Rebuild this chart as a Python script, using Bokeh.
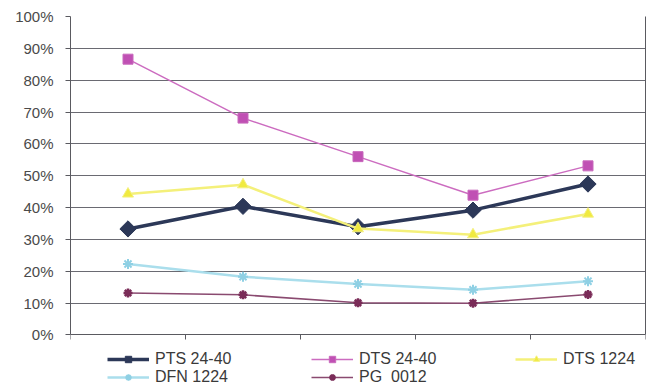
import math
from bokeh.plotting import figure
from bokeh.models import FixedTicker, PrintfTickFormatter, Legend, LegendItem, LinearAxis
from bokeh.embed import file_html
from bokeh.resources import INLINE

# ---- data ----
categories = ["1", "2", "3", "4", "5"]
x_pos = [0.5, 1.5, 2.5, 3.5, 4.5]
pts_24_40 = [33.3, 40.4, 34.0, 39.2, 47.4]
dts_24_40 = [86.6, 68.1, 56.0, 43.9, 53.1]
dts_1224 = [44.3, 47.2, 33.4, 31.5, 38.0]
dfn_1224 = [22.3, 18.3, 16.0, 14.2, 16.9]
pg_0012 = [13.2, 12.6, 10.1, 10.0, 12.7]
y_ticks = [0, 10, 20, 30, 40, 50, 60, 70, 80, 90, 100]
x_ticks = [0, 1, 2, 3, 4, 5]
labels = ["PTS 24-40", "DTS 24-40", "DTS 1224", "DFN 1224", "PG  0012"]

FONT = "Liberation Sans"
AX = "#5a5a60"

# frame extends below 0 so the legend (drawn inside the frame) is visible
p = figure(width=655, height=388, output_backend="svg", toolbar_location=None,
           x_range=(0, 5), y_range=(-16.8, 100), x_axis_location="above",
           min_border_left=70, min_border_right=10, min_border_top=16, min_border_bottom=0)
p.background_fill_color = "white"
p.border_fill_color = "white"
p.outline_line_color = None

p.xgrid.grid_line_color = None
p.ygrid.ticker = FixedTicker(ticks=y_ticks)
p.ygrid.grid_line_color = "#6a6a72"
p.ygrid.grid_line_width = 1

p.yaxis.ticker = FixedTicker(ticks=y_ticks)
p.yaxis.bounds = (0, 100)
p.yaxis.formatter = PrintfTickFormatter(format="%d%%")
p.yaxis.major_tick_out = 5
p.yaxis.major_tick_in = 0
p.yaxis.minor_tick_out = 0
p.yaxis.minor_tick_in = 0
p.yaxis.major_label_standoff = 12
p.yaxis.major_label_text_font = FONT
p.yaxis.major_label_text_font_size = "15px"
p.yaxis.major_label_text_color = "#4a4a4a"
p.yaxis.axis_line_color = AX
p.yaxis.major_tick_line_color = AX

# category axis drawn at y = 0 with ticks pointing down
p.xaxis.ticker = FixedTicker(ticks=x_ticks)
p.xaxis.fixed_location = 0
p.xaxis.major_label_overrides = {t: "" for t in x_ticks}
p.xaxis.major_label_text_font_size = "1px"
p.xaxis.major_label_standoff = 0
p.xaxis.major_tick_out = 0
p.xaxis.major_tick_in = 5
p.xaxis.minor_tick_out = 0
p.xaxis.minor_tick_in = 0
p.xaxis.axis_line_color = AX
p.xaxis.major_tick_line_color = AX

# right border of the plot area
right = LinearAxis(ticker=FixedTicker(ticks=[]), bounds=(0, 100),
                   major_label_text_font_size="1px", axis_line_color=AX,
                   major_tick_out=0, major_tick_in=0, minor_tick_out=0, minor_tick_in=0)
p.add_layout(right, "right")

# ---- series ----
l1 = p.line(x_pos, pts_24_40, line_color="#2c3858", line_width=3.5)
m1 = p.scatter(x_pos, pts_24_40, marker="square", angle=math.pi / 4, size=11.5,
               fill_color="#2c3858", line_color="#2c3858")
l2 = p.line(x_pos, dts_24_40, line_color="#cc6cc0", line_width=1.5)
m2 = p.scatter(x_pos, dts_24_40, marker="square", size=10,
               fill_color="#c050b4", line_color="#c868bc")
l3 = p.line(x_pos, dts_1224, line_color="#f4f07a", line_width=2.5)
m3 = p.scatter(x_pos, dts_1224, marker="triangle", size=11,
               fill_color="#f0ea40", line_color="#f4f080")
l4 = p.line(x_pos, dfn_1224, line_color="#aadeec", line_width=2.5)
m4 = p.scatter(x_pos, dfn_1224, marker="asterisk", size=10,
               line_color="#8fd0e4", line_width=2)
l5 = p.line(x_pos, pg_0012, line_color="#8a4a70", line_width=1.5)
m5 = p.scatter(x_pos, pg_0012, marker="asterisk", size=9,
               line_color="#7a2c58", line_width=2.5)

rends = [[l1, m1], [l2, m2], [l3, m3], [l4, m4], [l5, m5]]
# column-major order so that rows read: PTS, DTS 24-40, DTS 1224 / DFN, PG
order = [0, 3, 1, 4, 2]
items = [LegendItem(label=labels[i], renderers=rends[i]) for i in order]

lg = Legend(items=items, location=(37, 2), orientation="vertical", nrows=2,
            glyph_width=42, glyph_height=16, label_height=16, label_width=156,
            label_standoff=6, padding=0, margin=0, spacing=0,
            border_line_color=None, background_fill_alpha=0,
            label_text_font=FONT, label_text_font_size="16px",
            label_text_color="#3a3a3a")
p.add_layout(lg, "center")

open("out.html", "w").write(file_html(p, INLINE))
